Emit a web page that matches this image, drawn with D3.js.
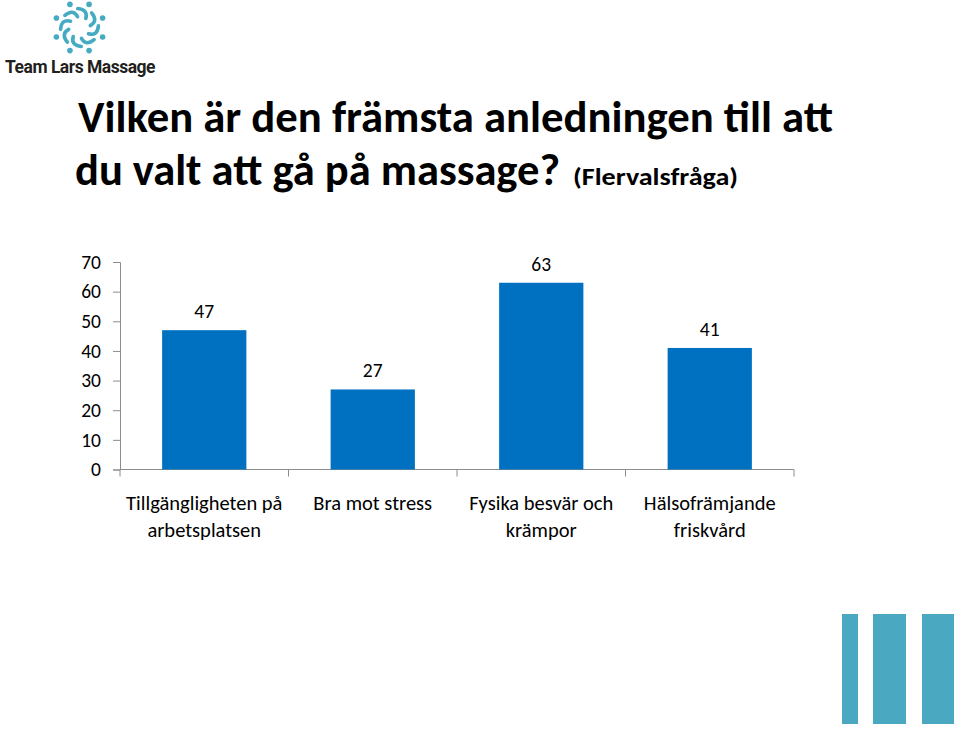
<!DOCTYPE html>
<html><head><meta charset="utf-8">
<script src="https://cdn.jsdelivr.net/npm/d3@7"></script>
<style>
html,body{margin:0;padding:0;background:#fff;}
svg{display:block;}
text{font-family:Carlito, Calibri, Lato, "Open Sans", sans-serif;}
</style></head>
<body>
<svg id="c" width="960" height="731"></svg>
<script>
const categories = ["Tillgängligheten på|arbetsplatsen", "Bra mot stress", "Fysika besvär och|krämpor", "Hälsofrämjande|friskvård"];
const values = [47, 27, 63, 41];
const yTicks = [0, 10, 20, 30, 40, 50, 60, 70];
const titleLines = ["Vilken är den främsta anledningen till att", "du valt att gå på massage?"];
const subtitle = "(Flervalsfråga)";
const logoText = "Team Lars Massage";

const svg = d3.select("#c");
const teal = "#45abc2";

// Logo
const lg = svg.append("g");
const cx = 79.5, cy = 27.5, R = 25;
for (let i = 0; i < 8; i++) {
  const a = (i * 45 + 22.5) * Math.PI / 180;
  lg.append("circle").attr("cx", cx + R * Math.sin(a)).attr("cy", cy - R * Math.cos(a)).attr("r", 2.8).attr("fill", teal);
  const a1 = a + 0.3, a2 = a + 1.0;
  const r1 = 19, r2 = 11;
  const p = d3.path();
  p.moveTo(cx + r1 * Math.sin(a1), cy - r1 * Math.cos(a1));
  p.quadraticCurveTo(cx + 20 * Math.sin(a + 0.85), cy - 20 * Math.cos(a + 0.85), cx + r2 * Math.sin(a2), cy - r2 * Math.cos(a2));
  lg.append("path").attr("d", p.toString()).attr("fill", "none").attr("stroke", teal).attr("stroke-width", 3.6).attr("stroke-linecap", "round");
}
lg.append("text").attr("x", 5).attr("y", 73).attr("font-size", 18).attr("font-weight", 700)
  .attr("fill", "#231f20").attr("textLength", 150).attr("lengthAdjust", "spacingAndGlyphs")
  .style("font-family", "Roboto, Arial, sans-serif").style("letter-spacing", "-0.5px").text(logoText);

// Title
svg.append("text").attr("x", 78).attr("y", 132).attr("font-size", 44).attr("font-weight", 700).attr("fill", "#000")
  .attr("textLength", 755).attr("lengthAdjust", "spacingAndGlyphs").text(titleLines[0]);
svg.append("text").attr("x", 75).attr("y", 185).attr("font-size", 44).attr("font-weight", 700).attr("fill", "#000")
  .attr("textLength", 485).attr("lengthAdjust", "spacingAndGlyphs").text(titleLines[1]);
svg.append("text").attr("x", 573).attr("y", 185).attr("font-size", 25).attr("font-weight", 700).attr("fill", "#000")
  .attr("textLength", 165).attr("lengthAdjust", "spacingAndGlyphs").text(subtitle);

// Chart
const x = d3.scaleBand().domain(categories).range([120, 794]).paddingInner(0.5).paddingOuter(0.25);
const y = d3.scaleLinear().domain([0, 70]).range([469.5, 262]);
const axisColor = "#8c8c8c";

const yAxis = svg.append("g").attr("transform", "translate(120,0)")
  .call(d3.axisLeft(y).tickValues(yTicks).tickSize(7).tickPadding(12));
yAxis.select(".domain").attr("stroke", axisColor);
yAxis.selectAll(".tick line").attr("stroke", axisColor);
yAxis.selectAll(".tick text").attr("font-size", 19.5).attr("fill", "#000").style("font-family", "Carlito, Calibri, Lato, sans-serif");

const xAxis = svg.append("g").attr("transform", "translate(0,469.5)")
  .call(d3.axisBottom(x).tickSize(0).tickFormat(""));
xAxis.select(".domain").attr("stroke", axisColor).attr("d", "M120,0H794");
xAxis.selectAll(".tick").remove();
const bounds = categories.map(c => x(c) - x.step() * x.paddingInner() / 2);
bounds.push(794);
bounds[0] = 120;
xAxis.selectAll("line.sep").data(bounds).join("line").attr("class", "sep")
  .attr("x1", d => d).attr("x2", d => d).attr("y1", 0).attr("y2", 7).attr("stroke", axisColor);

svg.append("g").selectAll("rect").data(values).join("rect")
  .attr("x", (d, i) => x(categories[i])).attr("width", x.bandwidth())
  .attr("y", d => y(d)).attr("height", d => y(0) - y(d)).attr("fill", "#0070c0");

svg.append("g").selectAll("text").data(values).join("text")
  .attr("x", (d, i) => x(categories[i]) + x.bandwidth() / 2).attr("y", d => y(d) - 12)
  .attr("text-anchor", "middle").attr("font-size", 19.5).attr("fill", "#000").text(d => d);

const lab = svg.append("g").selectAll("text").data(categories).join("text")
  .attr("x", d => x(d) + x.bandwidth() / 2).attr("y", 510).attr("text-anchor", "middle")
  .attr("font-size", 20.5).attr("fill", "#000");
lab.each(function (d) {
  const t = d3.select(this);
  d.split("|").forEach((s, i) => {
    t.append("tspan").attr("x", x(d) + x.bandwidth() / 2).attr("dy", i === 0 ? 0 : 27).text(s);
  });
});

// Decorative bars
const deco = [[842, 16], [873, 33], [922, 32]];
svg.append("g").selectAll("rect").data(deco).join("rect")
  .attr("x", d => d[0]).attr("width", d => d[1]).attr("y", 614).attr("height", 110).attr("fill", "#4aa8c0");
</script>
</body></html>
